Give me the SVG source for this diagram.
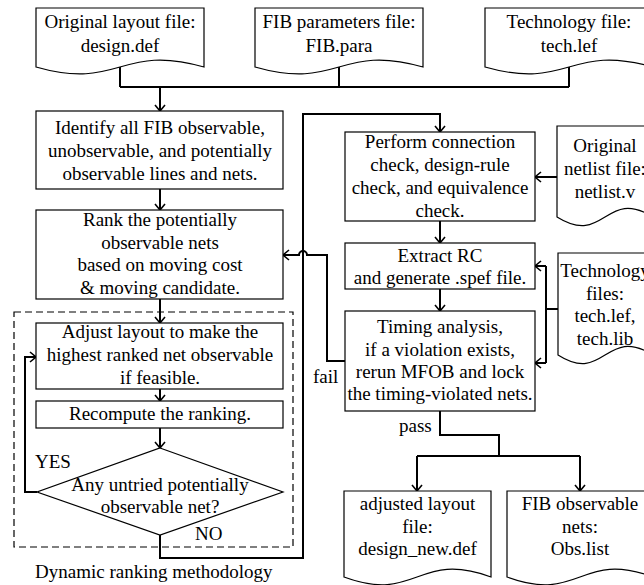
<svg xmlns="http://www.w3.org/2000/svg" width="644" height="585" viewBox="0 0 644 585">
<style>
.box{fill:#fff;stroke:#000;stroke-width:1.2}
.doc{fill:#fff;stroke:#000;stroke-width:1.2}
.dash{fill:none;stroke:#000;stroke-width:1.2;stroke-dasharray:7,4}
.c{fill:none;stroke:#000;stroke-width:2}
.a{marker-end:url(#arr)}
text{font-family:"Liberation Serif","Times New Roman",serif;font-size:19px;fill:#000}
.m{text-anchor:middle}
</style>
<defs>
<marker id="arr" viewBox="0 0 8 12" refX="7" refY="6" markerWidth="8" markerHeight="12" markerUnits="userSpaceOnUse" orient="auto">
<path d="M1,1 L7,6 L1,11" fill="none" stroke="#000" stroke-width="1.6"/>
</marker>
</defs>
<rect width="644" height="585" fill="#fff"/>

<g id="connectors">
<path class="c" d="M120,67 V87 M339,67 V87 M569,67 V87 M120,87 H569"/>
<path class="c a" d="M160,87 V111"/>
<path class="c a" d="M160,189 V210"/>
<path class="c a" d="M160,299 V323"/>
<path class="c a" d="M160,389 V401"/>
<path class="c a" d="M160,428 V448"/>
<path class="c a" d="M37,492 H25 V357 H36"/>
<path class="c a" d="M160,535 V558 H303 V114 H440 V132"/>
<path class="c a" d="M557,177 H535"/>
<path class="c a" d="M440,221 V243"/>
<path class="c a" d="M440,289 V311"/>
<path class="c" d="M558,309 H546 M546,266 V363"/>
<path class="c a" d="M546,266 H535"/>
<path class="c a" d="M546,363 H535"/>
<path class="c a" d="M345,361 H327 V255 H307 A4,4 0 0 0 299,255 H283"/>
<path class="c" d="M440,411 V435 H499 V456 M417,456 H580"/>
<path class="c a" d="M417,456 V491"/>
<path class="c a" d="M580,456 V491"/>
</g>

<g id="doc-design-def">
<path class="doc" d="M36,8 H204 V67 C120,43 120,91 36,67 Z"/>
<text class="m" x="120" y="28">Original layout file:</text>
<text class="m" x="120" y="52">design.def</text>
</g>
<g id="doc-fib-para">
<path class="doc" d="M255,8 H423 V67 C339,43 339,91 255,67 Z"/>
<text class="m" x="339" y="28">FIB parameters file:</text>
<text class="m" x="339" y="52">FIB.para</text>
</g>
<g id="doc-tech-lef">
<path class="doc" d="M485,8 H653 V67 C569,43 569,91 485,67 Z"/>
<text class="m" x="569" y="28">Technology file:</text>
<text class="m" x="569" y="52">tech.lef</text>
</g>

<g id="box-identify">
<rect class="box" x="36" y="111" width="247" height="78"/>
<text class="m" x="160" y="134">Identify all FIB observable,</text>
<text class="m" x="160" y="157">unobservable, and potentially</text>
<text class="m" x="160" y="180">observable lines and nets.</text>
</g>
<g id="box-rank">
<rect class="box" x="36" y="210" width="247" height="89"/>
<text class="m" x="160" y="226">Rank the potentially</text>
<text class="m" x="160" y="249">observable nets</text>
<text class="m" x="160" y="271">based on moving cost</text>
<text class="m" x="160" y="294">&amp; moving candidate.</text>
</g>

<g id="dynamic-ranking">
<rect class="dash" x="14" y="312" width="279" height="235"/>
<text x="35" y="578">Dynamic ranking methodology</text>
</g>
<g id="box-adjust">
<rect class="box" x="36" y="323" width="247" height="66"/>
<text class="m" x="160" y="338">Adjust layout to make the</text>
<text class="m" x="160" y="361">highest ranked net observable</text>
<text class="m" x="160" y="384">if feasible.</text>
</g>
<g id="box-recompute">
<rect class="box" x="36" y="401" width="247" height="27"/>
<text class="m" x="160" y="420">Recompute the ranking.</text>
</g>
<g id="decision-untried">
<polygon class="box" points="160,448 283,492 160,535 37,492"/>
<text class="m" x="160" y="491">Any untried potentially</text>
<text class="m" x="160" y="513">observable net?</text>
<text x="35" y="468">YES</text>
<text x="195" y="540">NO</text>
</g>

<g id="box-perform">
<rect class="box" x="345" y="132" width="190" height="89"/>
<text class="m" x="440" y="148">Perform connection</text>
<text class="m" x="440" y="171">check, design-rule</text>
<text class="m" x="440" y="194">check, and equivalence</text>
<text class="m" x="440" y="217">check.</text>
</g>
<g id="doc-netlist">
<path class="doc" d="M557,126 H653 V217 C605,187 605,247 557,217 Z"/>
<text class="m" x="605" y="152">Original</text>
<text class="m" x="605" y="175">netlist file:</text>
<text class="m" x="605" y="198">netlist.v</text>
</g>
<g id="box-extract">
<rect class="box" x="345" y="243" width="190" height="46"/>
<text class="m" x="440" y="262">Extract RC</text>
<text class="m" x="440" y="284">and generate .spef file.</text>
</g>
<g id="doc-tech-files">
<path class="doc" d="M558,253 H653 V355 C605,325 605,385 558,355 Z"/>
<text class="m" x="605" y="277">Technology</text>
<text class="m" x="605" y="300">files:</text>
<text class="m" x="605" y="322">tech.lef,</text>
<text class="m" x="605" y="345">tech.lib</text>
</g>
<g id="box-timing">
<rect class="box" x="345" y="311" width="190" height="100"/>
<text class="m" x="440" y="333">Timing analysis,</text>
<text class="m" x="440" y="356">if a violation exists,</text>
<text class="m" x="440" y="378">rerun MFOB and lock</text>
<text class="m" x="440" y="400">the timing-violated nets.</text>
</g>
<g id="labels">
<text x="313" y="383">fail</text>
<text x="399" y="432">pass</text>
</g>
<g id="doc-design-new">
<path class="doc" d="M344,491 H491 V577 C417,550 417,604 344,577 Z"/>
<text class="m" x="417.5" y="510">adjusted layout</text>
<text class="m" x="417.5" y="533">file:</text>
<text class="m" x="417.5" y="555">design_new.def</text>
</g>
<g id="doc-obs-list">
<path class="doc" d="M507,491 H653 V577 C580,550 580,604 507,577 Z"/>
<text class="m" x="580" y="510">FIB observable</text>
<text class="m" x="580" y="533">nets:</text>
<text class="m" x="580" y="555">Obs.list</text>
</g>
</svg>
